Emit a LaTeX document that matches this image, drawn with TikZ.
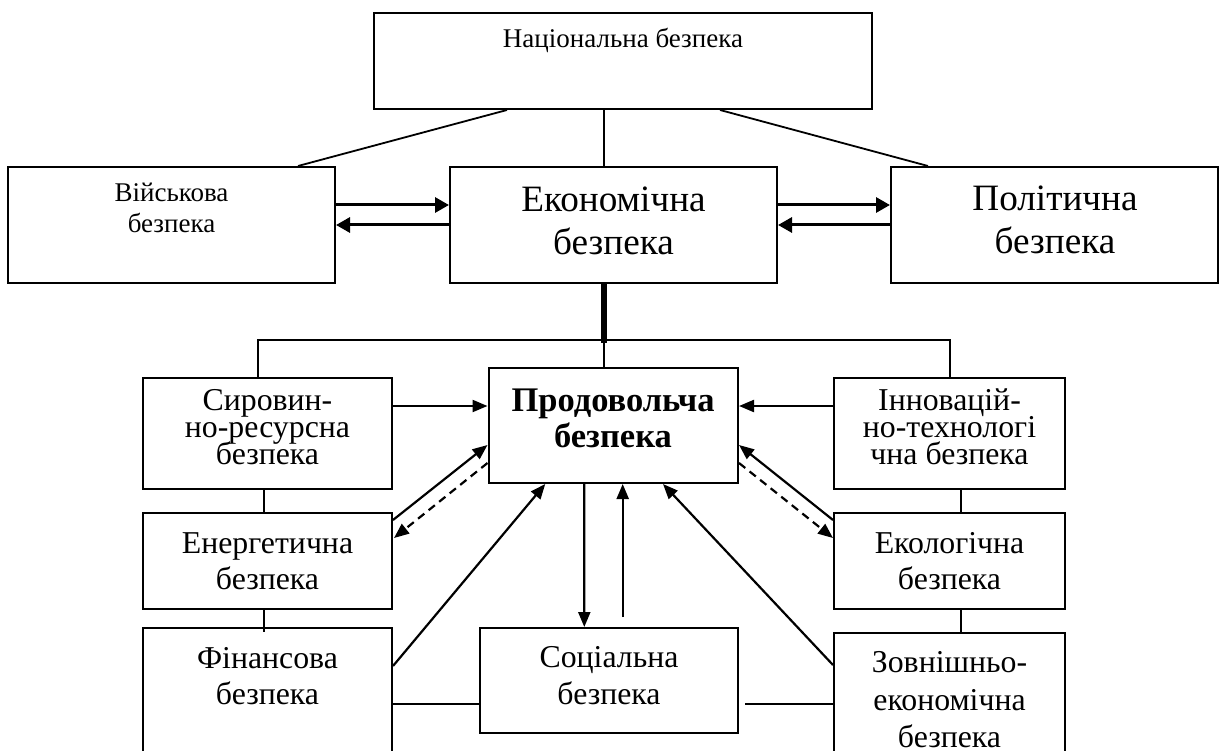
\documentclass[tikz,border=0pt]{standalone}
\usepackage{fontspec}
\setmainfont{Liberation Serif}
\usetikzlibrary{arrows.meta,calc}
\newcommand\ml[1]{\vtop{\lineskiplimit=-100pt\relax\halign{\hfil##\hfil\cr#1\crcr}}}
\tikzset{
  box/.style={draw, line width=2pt, rectangle, inner sep=0pt},
  conn/.style={line width=1.8pt},
  arr/.style={line width=2.2pt, -{Triangle[length=15pt,width=12pt]}},
  bigarr/.style={line width=3pt, -{Triangle[length=14pt,width=15pt]}},
  dasharr/.style={arr, dash pattern=on 8pt off 5.5pt},
  lbl/.style={anchor=base, inner sep=0pt},
  fsmall/.style={font=\fontsize{27}{31}\selectfont},
  fbig/.style={font=\fontsize{37.2}{43}\selectfont},
  ftight/.style={font=\fontsize{31.8}{27}\selectfont},
  fmid/.style={font=\fontsize{31.8}{36.5}\selectfont},
  fbold/.style={font=\fontsize{34.5}{36}\selectfont\bfseries},
  floose/.style={font=\fontsize{31.8}{37.5}\selectfont},
}
\begin{document}
\begin{tikzpicture}[x=1pt,y=-1pt]
\clip (0,0) rectangle (1220,751);
\fill[white] (0,0) rectangle (1220,751);
% boxes
\node[box, minimum width=498pt, minimum height=96pt] (nat) at (623,61) {};
\node[box, minimum width=327pt, minimum height=116pt] (mil) at (171.5,225) {};
\node[box, minimum width=327pt, minimum height=116pt] (eco) at (613.5,225) {};
\node[box, minimum width=327pt, minimum height=116pt] (pol) at (1054.5,225) {};
\node[box, minimum width=249pt, minimum height=111pt] (syr) at (267.5,433.5) {};
\node[box, minimum width=249.5pt, minimum height=115pt] (prod) at (613.25,425.5) {};
\node[box, minimum width=231pt, minimum height=111pt] (inn) at (949.5,433.5) {};
\node[box, minimum width=249pt, minimum height=96pt] (ener) at (267.5,561) {};
\node[box, minimum width=231pt, minimum height=96pt] (ecol) at (949.5,561) {};
\node[box, minimum width=249pt, minimum height=152pt] (fin) at (267.5,704) {};
\node[box, minimum width=258pt, minimum height=105pt] (soc) at (609,680.5) {};
\node[box, minimum width=231pt, minimum height=147pt] (zovn) at (949.5,706.5) {};
% texts
\node[lbl, fsmall] (tnat) at (623,48) {Національна безпека};
\node[lbl, fsmall] (tmil) at (171.5,202) {\ml{Військова\cr безпека}};
\node[lbl, fbig] (teco) at (613.5,212) {\ml{Економічна\cr безпека}};
\node[lbl, fbig] (tpol) at (1055,211) {\ml{Політична\cr безпека}};
\node[lbl, ftight] (tsyr) at (267.5,410) {\ml{Сировин-\cr но-ресурсна\cr безпека}};
\node[lbl, fbold] (tprod) at (613,411) {\ml{Продовольча\cr безпека}};
\node[lbl, ftight] (tinn) at (949.5,410) {\ml{Інновацій-\cr но-технологі\cr чна безпека}};
\node[lbl, fmid] (tener) at (267.5,553) {\ml{Енергетична\cr безпека}};
\node[lbl, fmid] (tecol) at (949.5,553) {\ml{Екологічна\cr безпека}};
\node[lbl, fmid] (tfin) at (267.5,668) {\ml{Фінансова\cr безпека}};
\node[lbl, floose] (tsoc) at (609,667) {\ml{Соціальна\cr безпека}};
\node[lbl, floose] (tzovn) at (949.5,672.5) {\ml{Зовнішньо-\cr економічна\cr безпека}};
% top connectors
\draw[conn] ($(nat.south)+(-116,0)$) -- ($(mil.north)+(126.5,0)$);
\draw[conn] ($(nat.south)+(-19,0)$) -- ($(eco.north)+(-9.5,0)$);
\draw[conn] ($(nat.south)+(97,0)$) -- ($(pol.north)+(-126.5,0)$);
% top arrows
\draw[bigarr] ($(mil.east)+(0,-20)$) -- ($(eco.west)+(0,-20)$);
\draw[bigarr] (eco.west) -- (mil.east);
\draw[bigarr] ($(eco.east)+(0,-20)$) -- ($(pol.west)+(0,-20)$);
\draw[bigarr] (pol.west) -- (eco.east);
% bus
\coordinate (bus) at (604,340);
\draw[line width=6pt] ($(eco.south)+(-9.5,0)$) -- ($(bus)+(0,3)$);
\draw[conn] ($(syr.north)+(-9.5,0)$) |- (bus) -| ($(inn.north)+(0.5,0)$);
\draw[conn] (bus) -- ($(prod.north)+(-9.25,0)$);
% side chains
\draw[conn] ($(syr.south)+(-3.5,0)$) -- ($(ener.north)+(-3.5,0)$);
\draw[conn] ($(ener.south)+(-3.5,0)$) -- ($(fin.north)+(-3.5,5)$);
\draw[conn] ($(inn.south)+(11.5,0)$) -- ($(ecol.north)+(11.5,0)$);
\draw[conn] ($(ecol.south)+(11.5,0)$) -- ($(zovn.north)+(11.5,0)$);
\draw[conn] (fin.east) -- (fin.east -| soc.west);
\draw[conn] ($(soc.east |- fin.east)+(6,0)$) -- (zovn.west |- fin.east);
% arrows to/from prod
\draw[arr] ($(syr.east)+(0,-27.5)$) -- ($(syr.east -| prod.west)+(0,-27.5)$);
\draw[arr] ($(inn.west)+(0,-27.5)$) -- ($(inn.west -| prod.east)+(0,-27.5)$);
\draw[arr] ($(ener.east)+(0,-41)$) -- ($(prod.west)+(0,19.5)$);
\draw[dasharr] ($(prod.west)+(0,37.5)$) -- ($(ener.east)+(1,-23)$);
\draw[arr] ($(ecol.west)+(0,-41)$) -- ($(prod.east)+(0,19.5)$);
\draw[dasharr] ($(prod.east)+(0,37.5)$) -- ($(ecol.west)+(0,-23)$);
\draw[arr] ($(fin.east)+(0,-38)$) -- ($(prod.south)+(-68,0)$);
\draw[arr] ($(zovn.west)+(0,-41.5)$) -- ($(prod.south)+(49.75,0)$);
\draw[arr] ($(prod.south)+(-29,0)$) -- ($(soc.north)+(-24.7,0)$);
\draw[arr] ($(soc.north)+(13.7,-10)$) -- ($(prod.south)+(9.45,0)$);
\end{tikzpicture}
\end{document}
